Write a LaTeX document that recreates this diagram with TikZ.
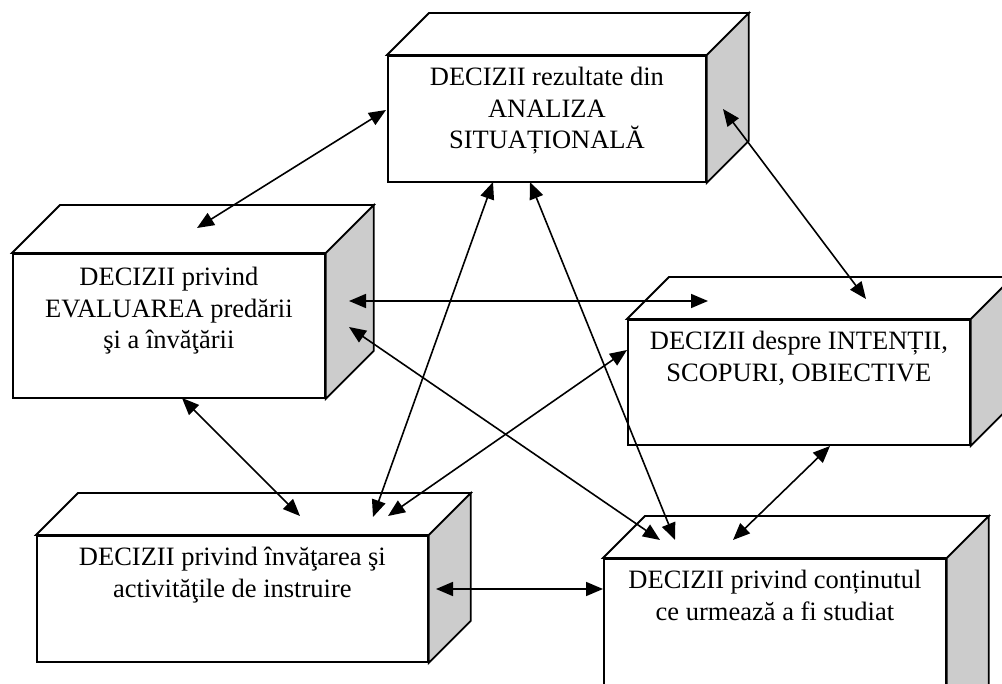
\documentclass[tikz,border=0pt]{standalone}
\usepackage{fontspec}
\setmainfont{Liberation Serif}
\usetikzlibrary{arrows.meta,calc}
\definecolor{sidegray}{HTML}{CCCCCC}
\newcommand\cubebox[8]{%
  \node[face,anchor=north west,minimum width=#4-#2,minimum height=#5-#3] (#1) at (#2,#3) {};
  \draw[face] (#1.north west) -- ++(#6,-#6) -- ($(#1.north east)+(#6,-#6)$) -- (#1.north east) -- cycle;
  \draw[side] (#1.north east) -- ++(#6,-#6) -- ($(#1.south east)+(#6,-#6)$) -- (#1.south east) -- cycle;
  \node[boxtext] (#1-t) at ($(#1.north)+(0,#7)$) {#8};
}
\begin{document}
\begin{tikzpicture}[x=1pt,y=-1pt,
  face/.style={draw,line width=1.8pt,fill=white,inner sep=0pt,line join=miter},
  side/.style={draw,line width=1.8pt,fill=sidegray,line join=miter},
  boxtext/.style={anchor=north,inner sep=0pt,align=center,font=\fontsize{26.5}{31.5}\selectfont},
  link/.style={line width=1.6pt,{Triangle[length=17pt,width=14pt]}-{Triangle[length=17pt,width=14pt]}}]
\clip (0,0) rectangle (1002,684);
\fill[white] (0,0) rectangle (1002,684);

\cubebox{b1}{387}{55}{705}{181}{42}{12}{DECIZII rezultate din\\ANALIZA\\SITUAȚIONALĂ}
\cubebox{b2}{12}{253}{324}{397}{48}{14}{DECIZII privind\\EVALUAREA predării\\şi a învăţării}
\cubebox{b3}{627}{319}{969}{444}{42}{12}{DECIZII despre INTENȚII,\\SCOPURI, OBIECTIVE}
\cubebox{b4}{36}{535}{427}{661}{42}{12}{DECIZII privind învăţarea şi\\activităţile de instruire}
\cubebox{b5}{603}{558}{945}{730}{42}{12}{DECIZII privind conținutul\\ce urmează a fi studiat}

% arrow end points
\coordinate (p12a) at (386,110); \coordinate (p12b) at (197,228);
\coordinate (p14a) at (493,182); \coordinate (p14b) at (373,517);
\coordinate (p15a) at (530,182); \coordinate (p15b) at (675,540);
\coordinate (p13a) at (723,109); \coordinate (p13b) at (866,299);
\coordinate (p23a) at (349,301); \coordinate (p23b) at (708,301);
\coordinate (p25a) at (349,327); \coordinate (p25b) at (660,540);
\coordinate (p24a) at (182,398); \coordinate (p24b) at (300,516);
\coordinate (p34a) at (627,350); \coordinate (p34b) at (388,516);
\coordinate (p35a) at (830,446); \coordinate (p35b) at (733,540);
\coordinate (p45a) at (436,589); \coordinate (p45b) at (603,589);

\draw[link] (p12a) -- (p12b);
\draw[link] (p14a) -- (p14b);
\draw[link] (p15a) -- (p15b);
\draw[link] (p13a) -- (p13b);
\draw[link] (p23a) -- (p23b);
\draw[link] (p25a) -- (p25b);
\draw[link] (p24a) -- (p24b);
\draw[link] (p34a) -- (p34b);
\draw[link] (p35a) -- (p35b);
\draw[link] (p45a) -- (p45b);
\end{tikzpicture}
\end{document}
